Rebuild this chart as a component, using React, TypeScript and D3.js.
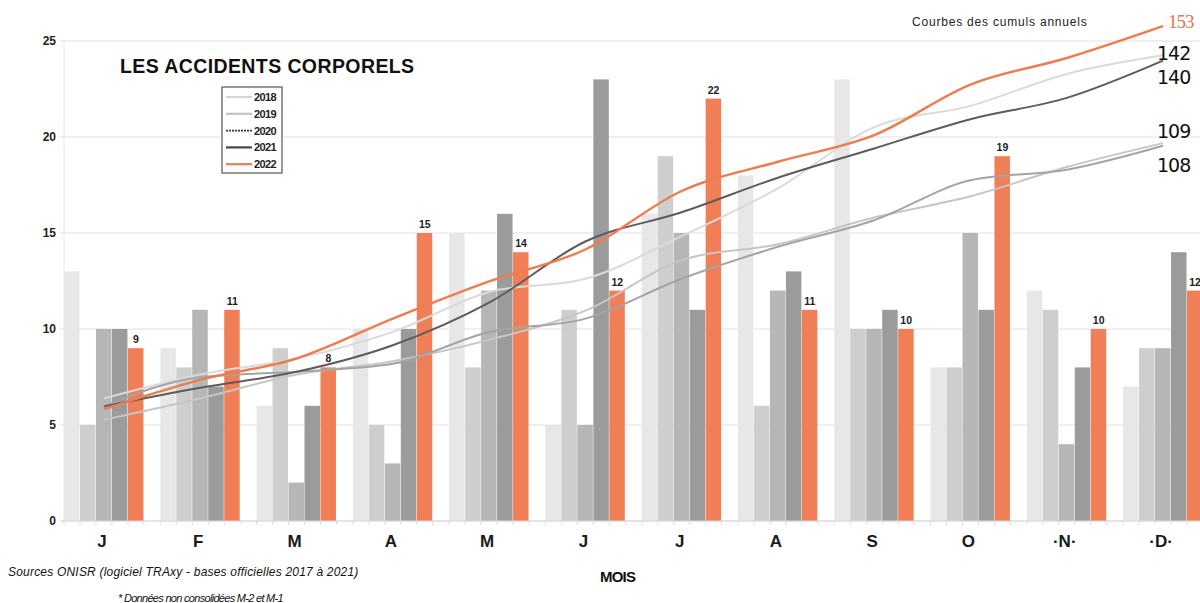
import React from 'react';
import * as d3 from 'd3';

const monthLabels = ['J', 'F', 'M', 'A', 'M', 'J', 'J', 'A', 'S', 'O', '·N·', '·D·'];
const years = ['2018', '2019', '2020', '2021', '2022'];
const v2018 = [13, 9, 6, 10, 15, 5, 16, 18, 23, 8, 12, 7];
const v2019 = [5, 8, 9, 5, 8, 11, 19, 6, 10, 8, 11, 9];
const v2020 = [10, 11, 2, 3, 12, 5, 15, 12, 10, 15, 4, 9];
const v2021 = [10, 7, 6, 10, 16, 23, 11, 13, 11, 11, 8, 14];
const v2022 = [9, 11, 8, 15, 14, 12, 22, 11, 10, 19, 10, 12];
const yTicks = [0, 5, 10, 15, 20, 25];

const series = [v2018, v2019, v2020, v2021, v2022];
const barColors = ['#e7e7e7', '#cdcfcd', '#b5b6b5', '#9b9b9b', '#f07f58'];
const lineColors = ['#dadada', '#c6c6c6', '#a4a4a4', '#5c5c5c', '#ee7c50'];
const legendColors = ['#d4d4d4', '#c2c2c2', '#333333', '#444444', '#ee7c50'];
// where the year-end totals sit relative to the line end (per series)
const totalDx = [-6, -6, -6, -6, 5];
const totalDy = [5, -5, 26, 23, 2];

const W = 1200;
const H = 603;
const font = '"Liberation Sans", Arial, sans-serif';

export default function App() {
  const idx = d3.range(monthLabels.length).map(String);
  const x0 = d3.scaleBand().domain(idx).range([64, 1203]).paddingInner(0.17).paddingOuter(0).align(0);
  const x1 = d3.scaleBand().domain(years).range([0, x0.bandwidth()]);
  const y = d3.scaleLinear().domain([0, 25]).range([521, 41]);
  // cumulative curves use their own (hidden) scale
  const yCum = d3.scaleLinear().domain([-33.1, 147.4]).range([521, 41]);

  const cums = series.map((s) => Array.from(d3.cumsum(s)));
  const cx = (i: number) => (x0(String(i)) as number) + x0.bandwidth() / 2;
  const line = d3
    .line<number>()
    .x((_, i) => cx(i))
    .y((d) => yCum(d))
    .curve(d3.curveMonotoneX);

  const minorTicks: number[] = [];
  idx.forEach((m) => {
    years.forEach((yr) => minorTicks.push((x0(m) as number) + (x1(yr) as number)));
    minorTicks.push((x0(m) as number) + x0.bandwidth());
  });

  return (
    <svg width={W} height={H} style={{ position: 'absolute', left: 0, top: 0, background: '#fff' }} fontFamily={font}>
      {/* grid */}
      {yTicks.map((t) => (
        <g key={t}>
          <line x1={60} x2={W} y1={y(t)} y2={y(t)} stroke="#e2e2e2" strokeWidth={1.2} />
          <text x={56} y={y(t) + 4} textAnchor="end" fontSize={12} fontWeight="bold" fill="#222">
            {t}
          </text>
        </g>
      ))}
      <line x1={64} x2={64} y1={y(25)} y2={y(0)} stroke="#e6e6e6" />

      {/* bars */}
      {idx.map((m, i) => (
        <g key={m} transform={`translate(${x0(m)},0)`}>
          {series.map((s, k) => (
            <rect
              key={k}
              x={x1(years[k]) as number}
              y={y(s[i])}
              width={x1.bandwidth() - 0.5}
              height={y(0) - y(s[i])}
              fill={barColors[k]}
            />
          ))}
          <text
            x={(x1('2022') as number) + x1.bandwidth() / 2}
            y={y(v2022[i]) - 5}
            textAnchor="middle"
            fontSize={10.5}
            fontWeight="bold"
            fill="#222"
          >
            {v2022[i]}
          </text>
        </g>
      ))}

      {/* x axis */}
      <line x1={60} x2={W} y1={y(0)} y2={y(0)} stroke="#d8d8d8" />
      {minorTicks.map((t, i) => (
        <line key={i} x1={t} x2={t} y1={y(0)} y2={y(0) + 4} stroke="#dcdcdc" />
      ))}
      {idx.map((m, i) => (
        <text key={m} x={cx(i) - 2} y={547} textAnchor="middle" fontSize={17} fontWeight="bold" fill="#1a1a1a">
          {monthLabels[i]}
        </text>
      ))}

      {/* cumulative curves */}
      {cums.map((c, k) => (
        <path key={k} d={line(c) as string} fill="none" stroke={lineColors[k]} strokeWidth={k === 4 ? 2.4 : 2} />
      ))}
      {cums.map((c, k) => {
        const total = c[c.length - 1];
        return (
          <text
            key={k}
            x={cx(11) + totalDx[k]}
            y={yCum(total) + totalDy[k]}
            fontSize={19}
            fill={k === 4 ? '#e8764a' : '#111'}
            fontFamily={k === 4 ? '"Liberation Serif", serif' : '"DejaVu Sans", sans-serif'}
            letterSpacing={-1}
          >
            {total}
          </text>
        );
      })}

      {/* titles */}
      <text x={120} y={73} fontSize={19.5} fontWeight="bold" fill="#111" letterSpacing={0.4}>
        LES ACCIDENTS CORPORELS
      </text>
      <text x={912} y={26} fontSize={12} fill="#222" letterSpacing={0.8}>
        Courbes des cumuls annuels
      </text>

      {/* legend */}
      <rect x={222} y={87} width={60} height={86} fill="#fff" stroke="#333" strokeWidth={1} />
      {years.map((yr, k) => (
        <g key={yr} transform={`translate(226,${97 + k * 16.8})`}>
          <line
            x1={0}
            x2={26}
            y1={0}
            y2={0}
            stroke={legendColors[k]}
            strokeWidth={k === 2 ? 1.6 : 2.2}
            strokeDasharray={k === 2 ? '2 1' : undefined}
          />
          <text x={28} y={4} fontSize={11} fontWeight="bold" fill="#222" letterSpacing={-0.6}>
            {yr}
          </text>
        </g>
      ))}

      {/* footer */}
      <text x={600} y={582} fontSize={15} fontWeight="bold" fill="#111" letterSpacing={-0.8}>
        MOIS
      </text>
      <text x={8} y={576} fontSize={12} fontStyle="italic" fill="#111" letterSpacing={0.2}>
        Sources ONISR (logiciel TRAxy - bases officielles 2017 à 2021)
      </text>
      <text x={118} y={602} fontSize={11} fontStyle="italic" fill="#111" letterSpacing={-0.7}>
        * Données non consolidées M-2 et M-1
      </text>
    </svg>
  );
}
